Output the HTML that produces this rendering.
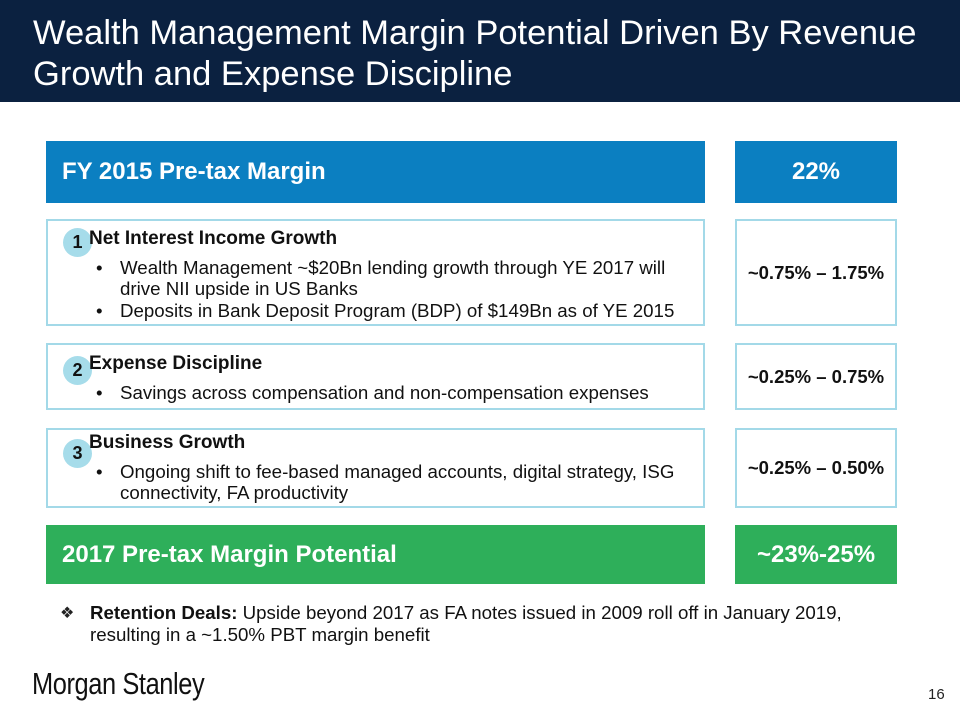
<!DOCTYPE html>
<html><head><meta charset="utf-8"><style>
body{margin:0;width:960px;height:720px;background:#fff;font-family:"Liberation Sans",Arial,sans-serif;position:relative;overflow:hidden}
.a{position:absolute;box-sizing:border-box}
.hdr{left:0;top:0;width:960px;height:102px;background:#0b2140}
.title{left:33px;top:13px;color:#fff;font-size:34.5px;line-height:41px;white-space:nowrap}
.bar{color:#fff;font-weight:bold;font-size:24px;display:flex;align-items:center}
.blue{background:#0b7fc1}.green{background:#2eaf5a}
.box{border:2px solid #a3d9e8}
.val{display:flex;align-items:center;justify-content:center;font-weight:bold;font-size:18.5px;color:#111}
.circ{width:29px;height:29px;border-radius:50%;background:#a6dcea;font-weight:bold;font-size:18px;display:flex;align-items:center;justify-content:center;color:#111}
.txt{font-size:18.7px;line-height:21.5px;color:#111}
.txt b{display:block;margin-bottom:7px;font-size:19px}
.li{padding-left:31px;position:relative}
.li:before{content:"•";position:absolute;left:7px}
</style></head><body>
<div class="a hdr"></div>
<div class="a title">Wealth Management Margin Potential Driven By Revenue<br>Growth and Expense Discipline</div>

<div class="a bar blue" style="left:46px;top:141px;width:659px;height:62px;padding-left:16px">FY 2015 Pre-tax Margin</div>
<div class="a bar blue" style="left:735px;top:141px;width:162px;height:62px;justify-content:center">22%</div>

<div class="a box" style="left:46px;top:219px;width:659px;height:107px"></div>
<div class="a circ" style="left:63px;top:228px">1</div>
<div class="a txt" style="left:89px;top:228px;width:600px"><b>Net Interest Income Growth</b><div class="li">Wealth Management ~$20Bn lending growth through YE 2017 will drive NII upside in US Banks</div><div class="li">Deposits in Bank Deposit Program (BDP) of $149Bn as of YE 2015</div></div>
<div class="a box val" style="left:735px;top:219px;width:162px;height:107px">~0.75% – 1.75%</div>

<div class="a box" style="left:46px;top:343px;width:659px;height:67px"></div>
<div class="a circ" style="left:63px;top:356px">2</div>
<div class="a txt" style="left:89px;top:353px;width:600px"><b>Expense Discipline</b><div class="li">Savings across compensation and non-compensation expenses</div></div>
<div class="a box val" style="left:735px;top:343px;width:162px;height:67px">~0.25% – 0.75%</div>

<div class="a box" style="left:46px;top:428px;width:659px;height:80px"></div>
<div class="a circ" style="left:63px;top:439px">3</div>
<div class="a txt" style="left:89px;top:432px;width:600px"><b>Business Growth</b><div class="li">Ongoing shift to fee-based managed accounts, digital strategy, ISG connectivity, FA productivity</div></div>
<div class="a box val" style="left:735px;top:428px;width:162px;height:80px">~0.25% – 0.50%</div>

<div class="a bar green" style="left:46px;top:525px;width:659px;height:59px;padding-left:16px">2017 Pre-tax Margin Potential</div>
<div class="a bar green" style="left:735px;top:525px;width:162px;height:59px;justify-content:center">~23%-25%</div>

<div class="a" style="left:60px;top:603px;font-size:16px;color:#222">❖</div>
<div class="a txt" style="left:90px;top:602px;width:770px"><strong>Retention Deals:</strong> Upside beyond 2017 as FA notes issued in 2009 roll off in January 2019, resulting in a ~1.50% PBT margin benefit</div>

<div class="a" style="left:32px;top:666px;font-size:31px;color:#111;transform:scaleX(0.82);transform-origin:left;letter-spacing:-0.5px;white-space:nowrap">Morgan Stanley</div>
<div class="a" style="left:928px;top:686px;font-size:15px;color:#222">16</div>
</body></html>
